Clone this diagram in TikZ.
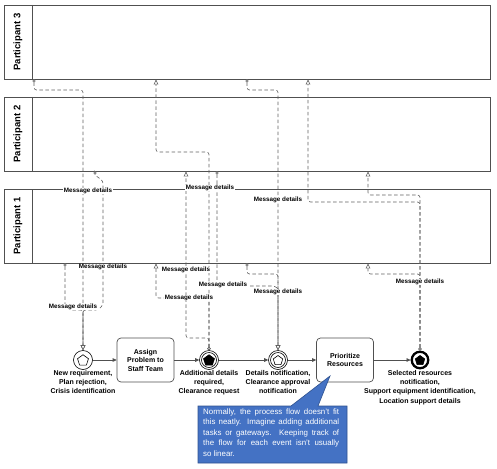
\documentclass[tikz,border=0pt]{standalone}
\usepackage{fontspec}
\setmainfont{Liberation Sans}
\usetikzlibrary{shapes.geometric,arrows.meta}
\definecolor{poolline}{HTML}{505050}
\definecolor{msgline}{HTML}{606060}
\definecolor{calloutblue}{HTML}{4472C4}
\definecolor{calloutedge}{HTML}{2F528F}
\begin{document}
\begin{tikzpicture}[x=1pt,y=-1pt,
  pool/.style={draw=poolline, line width=0.8pt},
  pooltitle/.style={rotate=90, font=\fontsize{9.5}{11}\selectfont\bfseries},
  msg/.style={draw=msgline, line width=0.6pt, dash pattern=on 3.5pt off 2.5pt, rounded corners=2.5pt,
    {Circle[open,length=3.2pt,width=3.2pt,fill=white]}-{Triangle[open,length=5pt,width=4.6pt,fill=white]}},
  seq/.style={draw=poolline, line width=0.7pt, -{Triangle[length=4pt,width=3.6pt]}},
  msglabel/.style={font=\fontsize{6.3}{7}\selectfont\bfseries, fill=white, inner sep=0.4pt},
  taskbox/.style={draw=poolline, line width=0.7pt, rounded corners=4pt, minimum width=57pt, minimum height=44pt,
    align=center, font=\fontsize{7}{8.5}\selectfont\bfseries, fill=white},
  evt/.style={circle, draw=black, line width=0.6pt, minimum size=19pt, inner sep=0pt, fill=white},
  inring/.style={circle, draw=black, line width=0.6pt, minimum size=15pt, inner sep=0pt},
  penta/.style={regular polygon, regular polygon sides=5, draw=black, line width=0.6pt, minimum size=11.5pt, inner sep=0pt},
  evlabel/.style={align=center, font=\fontsize{7}{9.3}\selectfont\bfseries, anchor=north, inner sep=0pt}
]
\useasboundingbox (0,0) rectangle (497,468);

% pools
\draw[pool] (4,5) rectangle (490,79);
\draw[pool] (32,5) -- (32,79);
\node[pooltitle] (lab3) at (18,42) {Participant 3};
\draw[pool] (4,97) rectangle (490,171);
\draw[pool] (32,97) -- (32,171);
\node[pooltitle] (lab2) at (18,134) {Participant 2};
\draw[pool] (4,189) rectangle (490,263);
\draw[pool] (32,189) -- (32,263);
\node[pooltitle] (lab1) at (18,226) {Participant 1};

% pool attach points
\coordinate (m1s) at (34,79.4);
\coordinate (m2s) at (95,171.4);
\coordinate (m3s) at (65,263.4);
\coordinate (m4s) at (217,171.4);
\coordinate (m5s) at (247,79.4);
\coordinate (m6s) at (247,263.4);
\coordinate (m7t) at (156,79.4);
\coordinate (m8t) at (186,171.4);
\coordinate (m9t) at (156,263.4);
\coordinate (m10t) at (368,171.4);
\coordinate (m11t) at (308,79.4);
\coordinate (m12t) at (368,263.4);

% events and tasks
\node[evt] (start) at (83,360) {};
\node[penta] (startp) at (83,360.5) {};
\node[taskbox] (t1) at (145.5,360) {Assign\\Problem to\\Staff Team};
\node[evt] (throw) at (209,360) {};
\node[inring] (throwr) at (209,360) {};
\node[penta, fill=black] (throwp) at (209,360.5) {};
\node[evt] (catch) at (278,360) {};
\node[inring] (catchr) at (278,360) {};
\node[penta, minimum size=10pt] (catchp) at (278,360.5) {};
\node[taskbox] (t2) at (345,360) {Prioritize\\Resources};
\node[evt, line width=2.3pt, minimum size=16.5pt] (endev) at (420,360) {};
\node[penta, fill=black, minimum size=10pt] (endp) at (420,360.5) {};

% sequence flows
\draw[seq] (start) -- (t1);
\draw[seq] (t1) -- (throw);
\draw[seq] (throw) -- (catch);
\draw[seq] (catch) -- (t2);
\draw[seq] (t2) -- (endev);

% message flows
\draw[msg] (m1s) |- (83,90) -- (start.north);
\draw[msg] (m2s) -- (95,175) -- (103,181) -- (103,305) -- (98,310) -- (83,310) -- (start.north);
\draw[msg] (m3s) -- (65,306) -- (69,310) -- (83,310) -- (start.north);
\draw[msg] (m4s) -- (217,283) -- (220,286) -- (275,286) -- (278,289) -- (catch.north);
\draw[msg] (m5s) |- (278,90) -- (catch.north);
\draw[msg] (m6s) |- (278,274) -- (catch.north);
\draw[msg] (throw.north) |- (156,152) -- (m7t);
\draw[msg] (throw.north) |- (186,338) -- (m8t);
\draw[msg] (throw.north) |- (156,298) -- (m9t);
\draw[msg] (endev.north) |- (368,195) -- (m10t);
\draw[msg] (endev.north) |- (308,202) -- (m11t);
\draw[msg] (endev.north) |- (368,274) -- (m12t);

% message labels
\node[msglabel] (ml1) at (88,191) {Message details};
\node[msglabel] (ml2) at (210,188) {Message details};
\node[msglabel] (ml3) at (278,200) {Message details};
\node[msglabel] (ml4) at (103,267) {Message details};
\node[msglabel] (ml5) at (186,270) {Message details};
\node[msglabel] (ml6) at (223,285) {Message details};
\node[msglabel] (ml7) at (189,298) {Message details};
\node[msglabel] (ml8) at (278,292) {Message details};
\node[msglabel] (ml9) at (73,307) {Message details};
\node[msglabel] (ml10) at (420,282) {Message details};

% event labels
\node[evlabel] (lstart) at (83,370) {New requirement,\\Plan rejection,\\Crisis identification};
\node[evlabel] (lthrow) at (209,370) {Additional details\\required,\\Clearance request};
\node[evlabel] (lcatch) at (278,370) {Details notification,\\Clearance approval\\notification};
\node[evlabel] (lend) at (420,370) {Selected resources\\notification,\\Support equipment identification,\\Location support details};

% callout
\path[fill=calloutblue, draw=calloutedge, line width=0.6pt]
  (198,406) -- (291,406) -- (330,376) -- (318,406) -- (347,406) -- (347,463) -- (198,463) -- cycle;
\node[anchor=north west, text width=136pt, align=justify, inner sep=0pt, text=white,
  font=\fontsize{7.9}{10.5}\selectfont] (callout) at (203,408.5)
  {Normally, the process flow doesn't fit\linebreak this neatly. Imagine adding additional\linebreak tasks or gateways. Keeping track of\linebreak the flow for each event isn't usually\linebreak so linear.};
\end{tikzpicture}
\end{document}
